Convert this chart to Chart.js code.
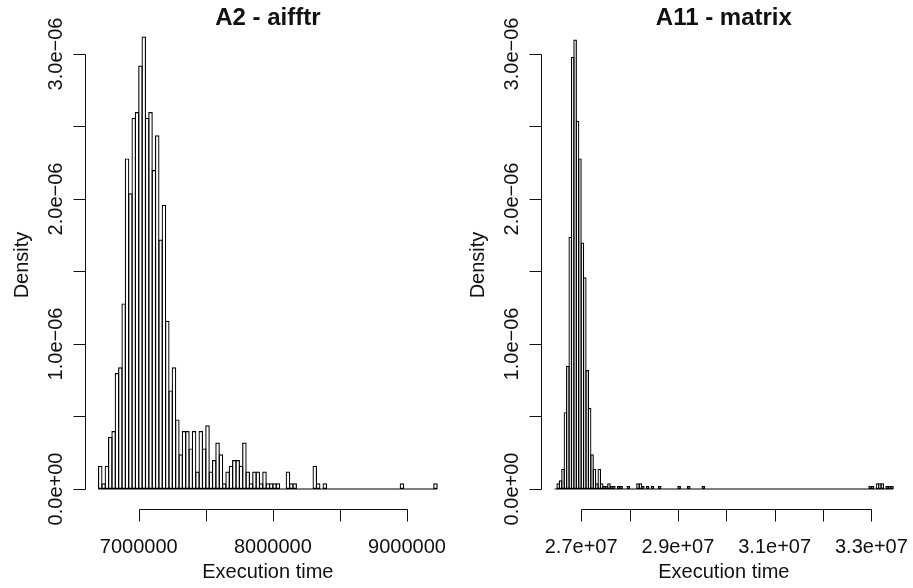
<!DOCTYPE html>
<html><head><meta charset="utf-8">
<script src="https://cdn.jsdelivr.net/npm/chart.js@4.4.1/dist/chart.umd.min.js"></script>
<style>
html,body{margin:0;padding:0;background:#fff;}
#wrap{position:relative;width:913px;height:588px;overflow:hidden;background:#fff;}
canvas{position:absolute;top:0;}
</style></head><body>
<div id="wrap">
<canvas id="c1" width="456" height="588" style="left:0"></canvas>
<canvas id="c2" width="457" height="588" style="left:456px"></canvas>
</div>
<script>
// ---------- data ----------
const titleA = 'A2 - aifftr';
const titleB = 'A11 - matrix';
const xTitle = 'Execution time';
const yTitle = 'Density';

// panel A: histogram bins (start, width) and densities (x 1e-6)
const breaksStartA = 6700000;
const binWidthA = 25000;
const densityA = [
  0.16,0.04,0.16,0.36,0.40,0.80,0.84,1.28,2.28,2.04,
  2.56,2.60,2.92,3.12,2.56,2.60,2.20,2.44,1.72,1.96,
  1.16,0.68,0.84,0.48,0.24,0.40,0.40,0.28,0.40,0.12,
  0.40,0.28,0.44,0.12,0.20,0.32,0.24,0.04,0.12,0.16,
  0.20,0.20,0.16,0.32,0.12,0.04,0.12,0.12,0.04,0.12,
  0.04,0.04,0.04,0.04,0,0,0.12,0.04,0.04,0,
  0,0,0,0,0.16,0.04,0,0.04,0,0,
  0,0,0,0,0,0,0,0,0,0,
  0,0,0,0,0,0,0,0,0,0,
  0.04,0,0,0,0,0,0,0,0,0,
  0.04
];

// panel B
const breaksStartB = 26450000;
const binWidthB = 50000;
const densityB = [
  0,0.04,0.06,0.14,0.53,0.85,1.74,2.98,3.10,2.54,
  2.28,1.70,1.46,0.82,0.56,0.24,0.14,0.04,0.14,0.04,
  0.02,0.02,0.04,0.02,0.02,0,0.02,0.02,0,0,
  0.02,0,0,0,0.04,0.04,0.02,0,0.02,0,
  0.02,0,0,0.02,0,0,0,0,0,0,
  0,0.02,0,0,0,0.02,0,0,0,0,
  0,0.02,0,0,0,0,0,0,0,0,
  0,0,0,0,0,0,0,0,0,0,
  0,0,0,0,0,0,0,0,0,0,
  0,0,0,0,0,0,0,0,0,0,
  0,0,0,0,0,0,0,0,0,0,
  0,0,0,0,0,0,0,0,0,0,
  0,0,0,0,0,0,0,0,0,0,
  0.02,0.02,0,0.04,0.04,0.04,0,0.02,0.02,0.02
];

// axes
const yTicks = [0,0.5,1,1.5,2,2.5,3];
const yTickLabels = ['0.0e+00','','1.0e\u221206','','2.0e\u221206','','3.0e\u221206'];
const xTicksA = [7000000,7500000,8000000,8500000,9000000];
const xTickLabelsA = ['7000000','','8000000','','9000000'];
const xTicksB = [27000000,28000000,29000000,30000000,31000000,32000000,33000000];
const xTickLabelsB = ['2.7e+07','','2.9e+07','','3.1e+07','','3.3e+07'];

// ---------- R-style axes plugin (uses chart scales) ----------
const FONT = '"Liberation Sans", Arial, Helvetica, sans-serif';
const rAxes = {
  id: 'rAxes',
  afterDraw(chart, args, o) {
    const ctx = chart.ctx, xs = chart.scales.x, ys = chart.scales.y, a = chart.chartArea;
    const TICK = 12;
    ctx.save();
    ctx.strokeStyle = '#111'; ctx.fillStyle = '#111'; ctx.lineWidth = 1;
    // y axis
    const ax = Math.round(a.left) + 0.5;
    ctx.beginPath();
    ctx.moveTo(ax, Math.round(ys.getPixelForValue(o.yTicks[0])) + 0.5);
    ctx.lineTo(ax, Math.round(ys.getPixelForValue(o.yTicks[o.yTicks.length - 1])) + 0.5);
    o.yTicks.forEach(v => {
      const p = Math.round(ys.getPixelForValue(v)) + 0.5;
      ctx.moveTo(ax, p); ctx.lineTo(ax - TICK, p);
    });
    // x axis
    const ay = Math.round(a.bottom) + 0.5;
    ctx.moveTo(Math.round(xs.getPixelForValue(o.xTicks[0])) + 0.5, ay);
    ctx.lineTo(Math.round(xs.getPixelForValue(o.xTicks[o.xTicks.length - 1])) + 0.5, ay);
    o.xTicks.forEach(v => {
      const p = Math.round(xs.getPixelForValue(v)) + 0.5;
      ctx.moveTo(p, ay); ctx.lineTo(p, ay + TICK);
    });
    ctx.stroke();

    ctx.font = '20px ' + FONT;
    ctx.textAlign = 'center'; ctx.textBaseline = 'alphabetic';
    // x tick labels
    o.xTicks.forEach((v, i) => {
      if (o.xLabels[i]) ctx.fillText(o.xLabels[i], xs.getPixelForValue(v), ay + 43);
    });
    const cx = (a.left + a.right) / 2;
    ctx.fillText(o.xTitle, cx, ay + 68);
    // y tick labels (rotated)
    o.yTicks.forEach((v, i) => {
      if (!o.yLabels[i]) return;
      ctx.save();
      ctx.translate(a.left - 23, ys.getPixelForValue(v));
      ctx.rotate(-Math.PI / 2);
      ctx.fillText(o.yLabels[i], 0, 0);
      ctx.restore();
    });
    ctx.save();
    ctx.translate(a.left - 57, (a.top + a.bottom) / 2);
    ctx.rotate(-Math.PI / 2);
    ctx.fillText(o.yTitle, 0, 0);
    ctx.restore();
    // title
    ctx.font = 'bold 24px ' + FONT;
    ctx.fillText(o.title, cx, a.top + 4);
    ctx.restore();
  }
};

function makeHist(canvasId, start, width, dens, xmin, xmax, barPct, xTicks, xLabels, title, padRight) {
  const pts = dens.map((d, i) => ({ x: start + (i + 0.5) * width, y: d }));
  const end = start + dens.length * width;
  return new Chart(document.getElementById(canvasId), {
    type: 'bar',
    data: {
      datasets: [
        {
          type: 'bar',
          data: pts,
          backgroundColor: 'rgba(255,255,255,0)',
          borderColor: '#000',
          borderWidth: 1.2,
          borderSkipped: false,
          inflateAmount: 0,
          barPercentage: barPct,
          categoryPercentage: 1
        },
        {
          type: 'line',
          data: [{ x: start, y: 0 }, { x: end, y: 0 }],
          borderColor: '#000',
          borderWidth: 1.2,
          pointRadius: 0,
          fill: false
        }
      ]
    },
    options: {
      responsive: false,
      animation: false,
      devicePixelRatio: 1,
      layout: { padding: { left: 85, right: padRight, top: 21, bottom: 79 } },
      scales: {
        x: { type: 'linear', min: xmin, max: xmax, display: false, offset: false },
        y: { type: 'linear', min: -0.138, max: 3.2276, display: false }
      },
      plugins: {
        legend: { display: false },
        tooltip: { enabled: false },
        rAxes: {
          yTicks: yTicks, yLabels: yTickLabels,
          xTicks: xTicks, xLabels: xLabels,
          xTitle: xTitle, yTitle: yTitle, title: title
        }
      }
    },
    plugins: [rAxes]
  });
}

makeHist('c1', breaksStartA, binWidthA, densityA, 6599000, 9326000, 1.358,
  xTicksA, xTickLabelsA, titleA, 5.3);
makeHist('c2', breaksStartB, binWidthB, densityB, 26170000, 33730000, 1.496,
  xTicksB, xTickLabelsB, titleB, 6.3);
</script>
</body></html>
